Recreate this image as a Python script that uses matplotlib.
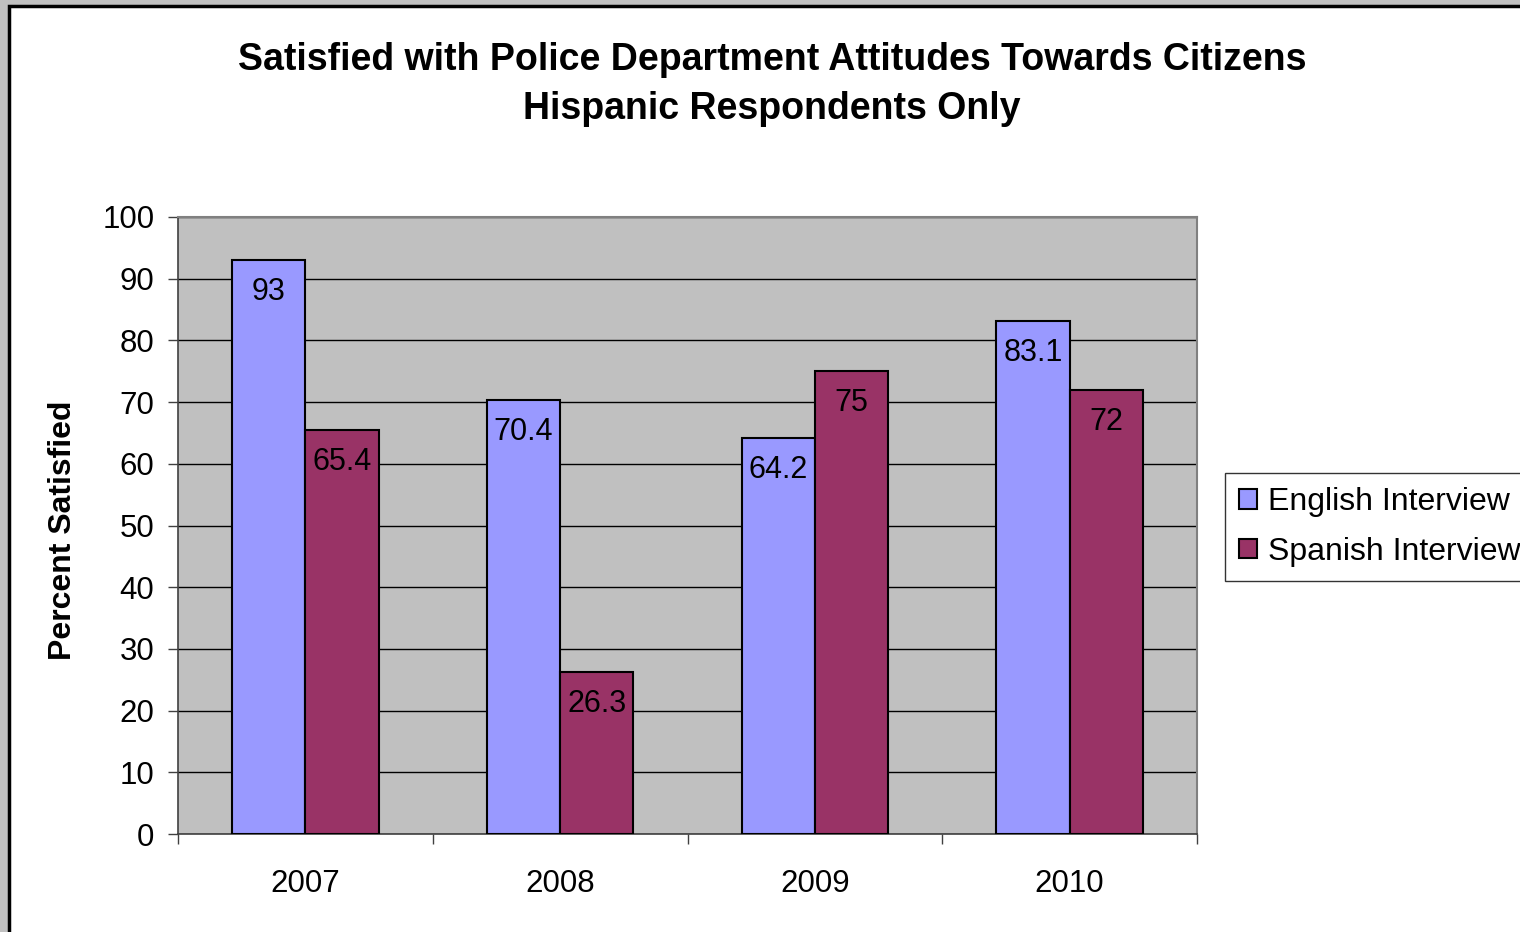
import matplotlib.pyplot as plt
from matplotlib.patches import Rectangle
import numpy as np

years = ["2007", "2008", "2009", "2010"]
english = [93, 70.4, 64.2, 83.1]
spanish = [65.4, 26.3, 75, 72]

plt.rcParams['font.family'] = ['Liberation Sans', 'DejaVu Sans']

fig = plt.figure(figsize=(15.2, 9.32), dpi=100, facecolor="white")
# grey margin top/left, black frame round the chart area
fig.patches.append(Rectangle((0, 1 - 6 / 932), 1, 6 / 932, transform=fig.transFigure,
                             facecolor="#C0C0C0", edgecolor="none", zorder=-2))
fig.patches.append(Rectangle((0, 0), 8 / 1520, 1, transform=fig.transFigure,
                             facecolor="#C0C0C0", edgecolor="none", zorder=-2))
fig.patches.append(Rectangle((9 / 1520, -0.01), 1, 1 - 6 / 932 + 0.01,
                             transform=fig.transFigure, facecolor="none",
                             edgecolor="black", linewidth=2.5, zorder=-1))

ax = fig.add_axes([178 / 1520, 98 / 932, 1019 / 1520, 617 / 932])
ax.set_zorder(2)
ax.set_facecolor("#C0C0C0")

x = np.arange(len(years))
w = 0.288
b1 = ax.bar(x - w / 2, english, w, color="#9999FF", edgecolor="black",
            linewidth=1.5, label="English Interview", zorder=3)
b2 = ax.bar(x + w / 2, spanish, w, color="#993366", edgecolor="black",
            linewidth=1.5, label="Spanish Interview", zorder=3)

for bars, vals in [(b1, english), (b2, spanish)]:
    for r, v in zip(bars, vals):
        ax.annotate(f"{v:g}", (r.get_x() + r.get_width() / 2, v),
                    xytext=(0, -32), textcoords="offset pixels",
                    ha="center", va="center", fontsize=22, zorder=4)

ax.set_xlim(-0.5, 3.5)
ax.set_ylim(0, 100)
ax.set_yticks(range(0, 101, 10))
ax.yaxis.grid(True, color="black", linewidth=1, zorder=1)
ax.set_xticks(x)
ax.set_xticklabels(years)
ax.set_xticks(np.arange(-0.5, 4, 1), minor=True)
ax.tick_params(axis="x", which="major", length=0, labelsize=22.5, pad=25)
ax.tick_params(axis="x", which="minor", length=7, width=1, direction="out", color="#404040")
ax.tick_params(axis="y", length=7, width=1, direction="out", labelsize=22.5, pad=10, color="#404040")

for s in ["top", "right"]:
    ax.spines[s].set_color("#808080")
    ax.spines[s].set_linewidth(1.5)
for s in ["left", "bottom"]:
    ax.spines[s].set_color("#404040")
    ax.spines[s].set_linewidth(1.2)

fig.text(63 / 1520, 1 - 530 / 932, "Percent Satisfied", rotation=90,
         ha="center", va="center", fontsize=23, fontweight="bold")

fig.text(772 / 1520, 1 - 60 / 932,
         "Satisfied with Police Department Attitudes Towards Citizens",
         ha="center", va="center", fontsize=27, fontweight="bold")
fig.text(772 / 1520, 1 - 109 / 932, "Hispanic Respondents Only",
         ha="center", va="center", fontsize=27, fontweight="bold")

leg = fig.legend(handles=[b1, b2], loc="upper left",
                 bbox_to_anchor=(1225 / 1520, 1 - 473 / 932),
                 fontsize=23, frameon=True, fancybox=False,
                 handlelength=0.55, handleheight=0.55, handletextpad=0.35,
                 borderpad=0.45, labelspacing=0.6, borderaxespad=0)
leg.get_frame().set_edgecolor("black")
leg.get_frame().set_linewidth(1)

fig.savefig("out.png", dpi=100, facecolor=fig.get_facecolor())
